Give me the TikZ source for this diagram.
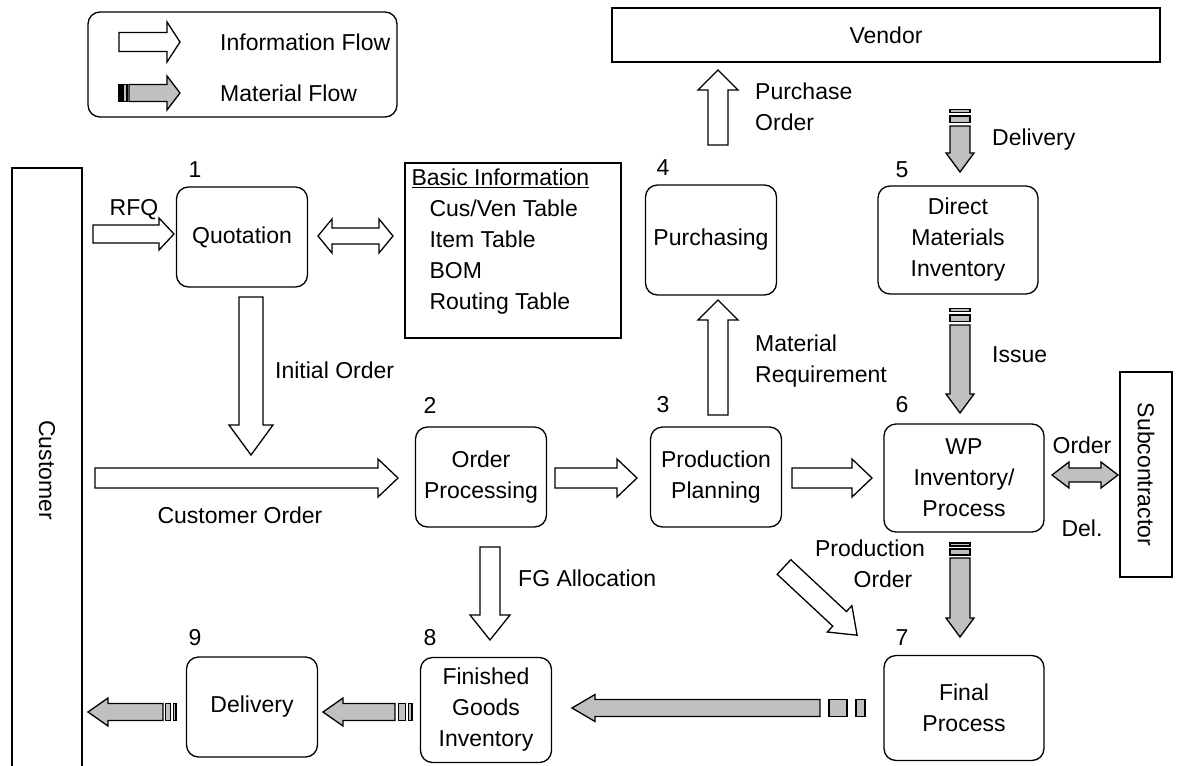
\documentclass[tikz,border=0pt]{standalone}
\usepackage{fontspec}
\setmainfont{Liberation Sans}
\usetikzlibrary{positioning,calc}
\definecolor{matgray}{RGB}{192,192,192}

\tikzset{
    infoshape/.style={draw=black, fill=white, line width=1.3pt, line join=miter},
    matshape/.style={draw=black, fill=matgray, line width=1.3pt, line join=miter},
    % block arrow: length, shaft half width, head half width, head length
    pics/infoarrow/.style n args={4}{code={
        \draw[infoshape] (0,#2) -- ({#1-#4},#2) -- ({#1-#4},#3) -- (#1,0) -- ({#1-#4},-#3) -- ({#1-#4},-#2) -- (0,-#2) -- cycle;
    }},
    % same, grey, with the two tail blocks (last arg = tail unit)
    pics/matarrow/.style n args={5}{code={
        \draw[matshape] (0,#2) -- ({#1-#4},#2) -- ({#1-#4},#3) -- (#1,0) -- ({#1-#4},-#3) -- ({#1-#4},-#2) -- (0,-#2) -- cycle;
        \draw[matshape] ({-#5},#2) rectangle ({-3*#5},-#2);
        \draw[matshape] ({-4*#5},#2) rectangle ({-5*#5},-#2);
    }},
    % two headed arrow, last arg = look
    pics/dblarrow/.style n args={5}{code={
        \draw[#5] (0,0) -- (#4,#3) -- (#4,#2) -- ({#1-#4},#2) -- ({#1-#4},#3) -- (#1,0) -- ({#1-#4},-#3) -- ({#1-#4},-#2) -- (#4,-#2) -- (#4,-#3) -- cycle;
    }},
}

\begin{document}
\begin{tikzpicture}[
    x=1pt, y=-1pt,
    font=\fontsize{23}{31}\selectfont,
    procbox/.style={rectangle, draw, rounded corners=12pt, line width=1.3pt, minimum width=131pt, minimum height=100pt, align=center, inner sep=0pt},
    widebox/.style={procbox, minimum width=160pt, minimum height=108pt},
    partybox/.style={rectangle, draw, line width=1.3pt, inner sep=0pt},
    legendbox/.style={rectangle, draw, rounded corners=12pt, line width=1.3pt},
    stepno/.style={inner sep=0pt},
    flowlabel/.style={inner sep=0pt, align=left},
]
    \useasboundingbox (0,0) rectangle (1184,766);

    % legend
    \node[legendbox, minimum width=309pt, minimum height=105pt] (legend) at (242.5,64.5) {};
    \pic at (119,42) {infoarrow={61}{9.5}{20}{13}};
    \node[flowlabel, anchor=west] (infolbl) at (220,42) {Information Flow};
    \pic at (129,93) {matarrow={51}{8.5}{17}{13}{2}};
    \node[flowlabel, anchor=west] (matlbl) at (220,93) {Material Flow};

    % outside parties
    \node[partybox, minimum width=548pt, minimum height=54pt] (vendor) at (886,35) {Vendor};
    \draw[line width=1.3pt] (12,766) |- (82,168) -- (82,766);
    \node[rotate=-90] (customer) at (47,470) {Customer};
    \node[partybox, rotate=-90, minimum width=205pt, minimum height=52pt] (subcon) at (1146,474.5) {Subcontractor};

    % basic data
    \node[partybox, minimum width=216pt, minimum height=175pt] (basic) at (513,250.5) {};
    \node[flowlabel, anchor=north west] (basictext) at ([xshift=7pt,yshift=-6pt]basic.north west)
        {\underline{Basic Information}\\\hspace{18pt}Cus/Ven Table\\\hspace{18pt}Item Table\\\hspace{18pt}BOM\\\hspace{18pt}Routing Table};

    % process steps
    \node[procbox] (quot) at (242,237) {Quotation};
    \node[procbox] (order) at (481,477) {Order\\Processing};
    \node[procbox] (plan) at (716,477) {Production\\Planning};
    \node[procbox, minimum height=110pt] (purch) at (711,240) {Purchasing};
    \node[widebox] (dminv) at (958,240) {Direct\\Materials\\Inventory};
    \node[widebox] (wip) at (964,478) {WP\\Inventory/\\Process};
    \node[widebox, minimum height=105pt] (final) at (964,708) {Final\\Process};
    \node[procbox, minimum height=105pt] (fginv) at (486,710) {Finished\\Goods\\Inventory};
    \node[procbox] (deliv) at (252,707) {Delivery};

    \node[stepno] (n1) at (195,170) {1};
    \node[stepno] (n2) at (430,405) {2};
    \node[stepno] (n3) at (663,405) {3};
    \node[stepno] (n4) at (663,168) {4};
    \node[stepno] (n5) at (902,170) {5};
    \node[stepno] (n6) at (902,405) {6};
    \node[stepno] (n7) at (902,638) {7};
    \node[stepno] (n8) at (430,638) {8};
    \node[stepno] (n9) at (195,638) {9};

    % information flows
    \pic at (93,234) {infoarrow={81}{9}{16}{15}};
    \node[flowlabel] (rfq) at (134,210) {RFQ};
    \pic at (318,236) {dblarrow={75}{8}{17}{14}{infoshape}};
    \pic[rotate=-90] at (251,297) {infoarrow={158}{12}{22}{30}};
    \node[flowlabel, anchor=west] (initlbl) at (275,370) {Initial Order};
    \pic at (95,478) {infoarrow={303}{10}{19}{20}};
    \node[flowlabel] (custlbl) at (240,515) {Customer Order};
    \pic at (555,478) {infoarrow={82}{10}{19}{20}};
    \pic at (792,478) {infoarrow={80}{10}{19}{20}};
    \pic[rotate=90] at (718,415) {infoarrow={115}{10}{20}{20}};
    \node[flowlabel, anchor=west] (mreqlbl) at (755,361) {Material\\Requirement};
    \pic[rotate=90] at (718,145) {infoarrow={75}{10}{20}{20}};
    \node[flowlabel, anchor=west] (polbl) at (755,107) {Purchase\\Order};
    \pic[rotate=-43] at (784,567) {infoarrow={100}{10}{18}{24}};
    \node[flowlabel, align=center] (prodlbl) at (870,564) {Production\\\hspace*{26pt}Order};
    \pic[rotate=-90] at (490,547) {infoarrow={93}{10}{20}{25}};
    \node[flowlabel, anchor=west] (fglbl) at (518,578) {FG Allocation};

    % material flows
    \pic[rotate=-90] at (960,126) {matarrow={46}{10}{14}{19}{3.3}};
    \node[flowlabel, anchor=west] (dellbl) at (992,140) {Delivery};
    \pic[rotate=-90] at (960,325) {matarrow={88}{10}{14}{19}{3.3}};
    \node[flowlabel, anchor=west] (isslbl) at (992,355) {Issue};
    \pic[rotate=-90] at (960,558) {matarrow={79}{10}{14}{19}{3}};
    \pic at (1052,475) {dblarrow={66}{7}{13}{17}{matshape}};
    \node[flowlabel] (sublbl) at (1082,445) {Order};
    \node[flowlabel] (dellbl2) at (1082,528) {Del.};
    \pic[rotate=180] at (820,708) {matarrow={248}{8.5}{13.5}{23}{9}};
    \pic[rotate=180] at (395,712) {matarrow={72}{8.5}{14}{20}{3.4}};
    \pic[rotate=180] at (163,712) {matarrow={75}{8.5}{14}{20}{2.6}};
\end{tikzpicture}
\end{document}
